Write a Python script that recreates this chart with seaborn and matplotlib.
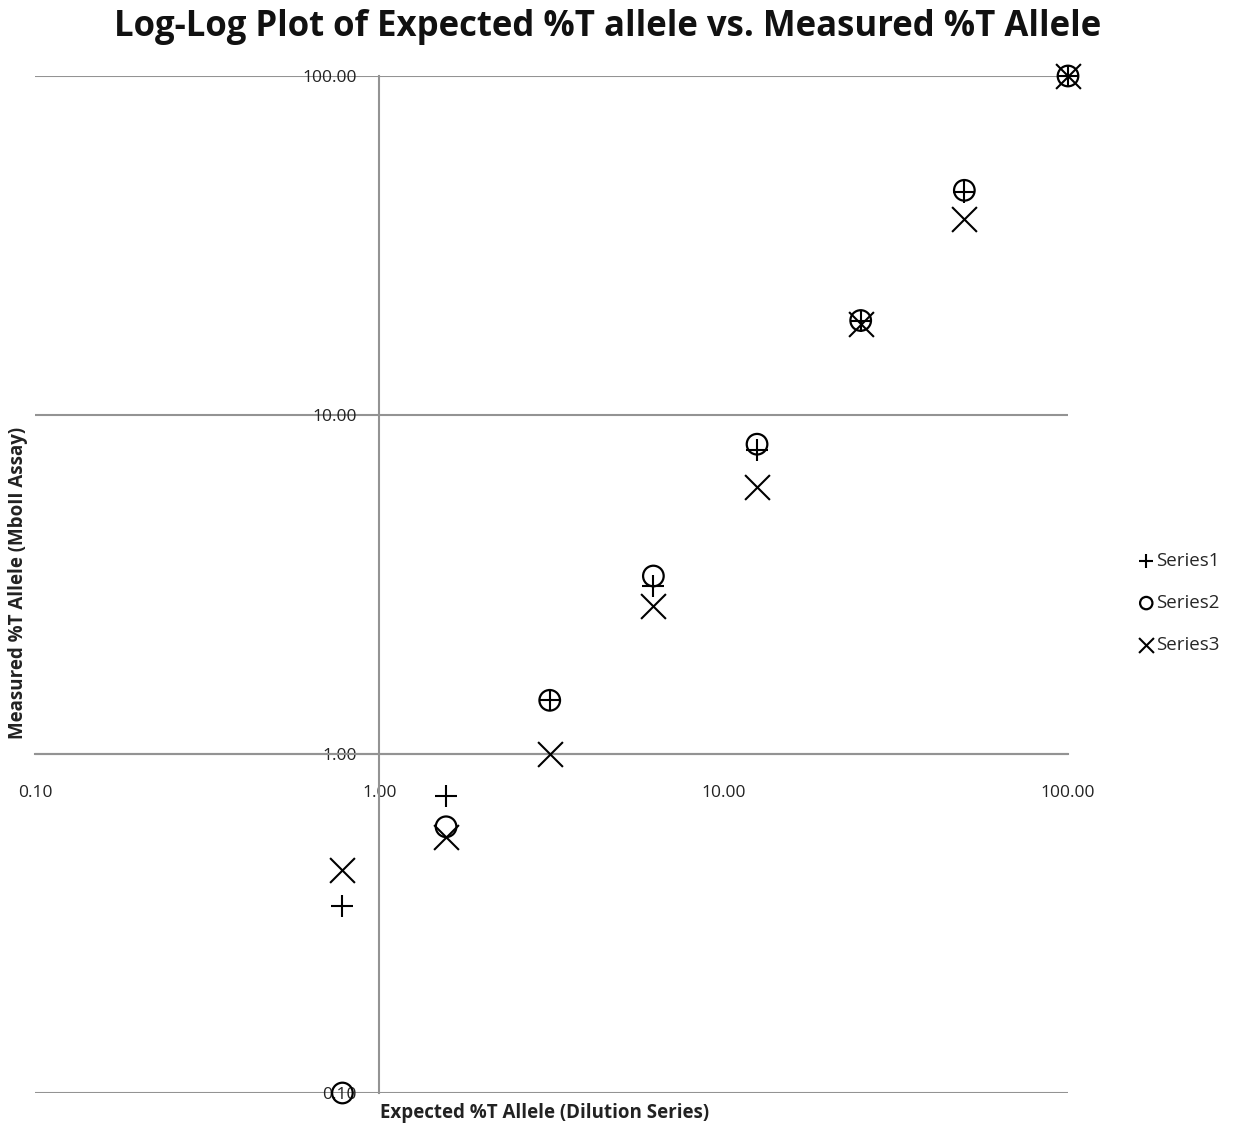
import matplotlib
matplotlib.use("Agg")
import matplotlib.pyplot as plt
import seaborn as sns
import pandas as pd
from matplotlib.ticker import FixedLocator, FixedFormatter, NullLocator

expected = [100, 50, 25, 12.5, 6.25, 3.125, 1.5625, 0.78125]
series1 = [100, 45.5, 18.9, 7.9, 3.13, 1.44, 0.75, 0.356]
series2 = [100, 46.0, 19.0, 8.2, 3.35, 1.44, 0.61, 0.10]
series3 = [100, 37.9, 18.6, 6.13, 2.73, 1.00, 0.57, 0.455]
series_names = ["Series1", "Series2", "Series3"]
tick_vals = [0.1, 1, 10, 100]
tick_labels = ["0.10", "1.00", "10.00", "100.00"]

rows = []
for name, vals in zip(series_names, [series1, series2, series3]):
    for x, y in zip(expected, vals):
        rows.append({"expected": x, "measured": y, "series": name})
df = pd.DataFrame(rows)

sns.set_theme(style="white")
plt.rcParams['font.family'] = ['Open Sans', 'DejaVu Sans']

fig = plt.figure(figsize=(12.34, 11.27), dpi=100)
ax = fig.add_axes([35/1234, 34/1127, 1033/1234, 1017/1127])

markers = {"Series1": "+", "Series2": "o", "Series3": "x"}
sizes = {"Series1": 260, "Series2": 220, "Series3": 320}
for name in series_names:
    sub = df[df["series"] == name]
    if markers[name] == "o":
        sns.scatterplot(data=sub, x="expected", y="measured", ax=ax, marker="o",
                        s=sizes[name], facecolors="none", edgecolor="black",
                        linewidth=1.6, label=name, zorder=5, clip_on=False)
    else:
        sns.scatterplot(data=sub, x="expected", y="measured", ax=ax, marker=markers[name],
                        s=sizes[name], color="black", linewidth=1.5, label=name,
                        zorder=5, clip_on=False)

ax.set_xscale("log")
ax.set_yscale("log")
ax.set_xlim(0.1, 100)
ax.set_ylim(0.1, 100)

ax.xaxis.set_major_locator(FixedLocator(tick_vals))
ax.xaxis.set_major_formatter(FixedFormatter(tick_labels))
ax.yaxis.set_major_locator(FixedLocator(tick_vals))
ax.yaxis.set_major_formatter(FixedFormatter(tick_labels))
ax.xaxis.set_minor_locator(NullLocator())
ax.yaxis.set_minor_locator(NullLocator())

for s in ["top", "right"]:
    ax.spines[s].set_visible(False)
ax.spines["left"].set_position(("data", 1))
ax.spines["bottom"].set_position(("data", 1))
ax.spines["left"].set_color("#939393")
ax.spines["bottom"].set_color("#939393")
ax.spines["left"].set_linewidth(1.5)
ax.spines["bottom"].set_linewidth(1.5)

ax.yaxis.grid(True, color="#939393", linewidth=1.5)
ax.xaxis.grid(False)
ax.tick_params(axis="x", length=0, pad=22, labelsize=12.5, labelcolor="#222222")
ax.tick_params(axis="y", length=0, pad=16, labelsize=12.5, labelcolor="#222222")
ax.set_xlabel("")
ax.set_ylabel("")

fig.text(380/1234, 1 - 1113/1127, "Expected %T Allele (Dilution Series)", ha="left", va="center",
         fontsize=13.5, fontweight="bold", color="#222222")
fig.text(18/1234, 1 - 583/1127, "Measured %T Allele (MboII Assay)", ha="center", va="center",
         rotation=90, fontsize=13.5, fontweight="bold", color="#222222")
fig.text(608/1234, 1 - 27/1127, "Log-Log Plot of Expected %T allele vs. Measured %T Allele",
         ha="center", va="center", fontsize=25, fontweight="bold", color="#111111")

ax.legend(loc="center left", frameon=False,
          fontsize=13.5, handletextpad=0.0, markerscale=0.6, labelspacing=1.3,
          handlelength=1.0)
leg = ax.get_legend()
leg.set_bbox_to_anchor((1120/1234, 1 - 603/1127), transform=fig.transFigure)

fig.savefig("out.png", dpi=100)
